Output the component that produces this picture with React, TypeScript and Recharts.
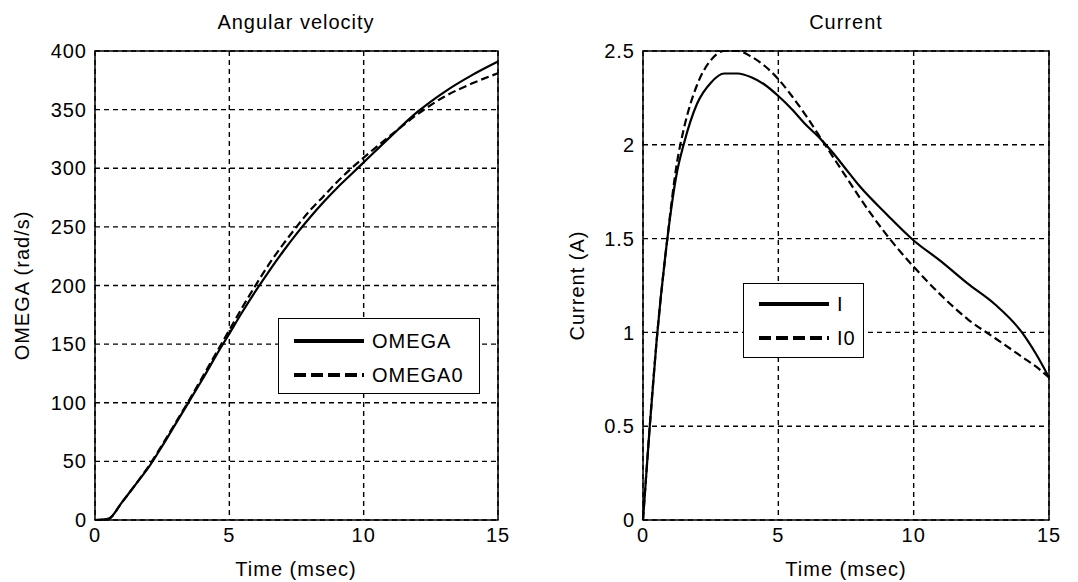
import { LineChart, Line, XAxis, YAxis, CartesianGrid, ReferenceArea, Legend } from "recharts";

const TIME_W = [0, 0.5, 1, 1.5, 2, 2.5, 3, 3.5, 4, 4.5, 5, 5.5, 6, 6.5, 7, 7.5, 8, 8.5, 9, 9.5, 10, 11, 12, 13, 14, 15];
const OMEGA = [0, 1, 15, 30, 45, 63, 82, 101, 120, 140, 159, 178, 196, 213, 229, 244, 258, 271, 283, 294, 305, 327, 348, 365, 379, 391];
const OMEGA0 = [0, 1, 15, 30, 46, 64, 83, 102, 122, 142, 162, 182, 201, 219, 235, 250, 264, 276, 288, 299, 309, 328, 346, 361, 372, 381];

const TIME_I = [0, 0.25, 0.5, 0.9, 1.25, 1.5, 2, 2.5, 3, 3.5, 4, 4.5, 5, 5.5, 6, 6.5, 7, 7.5, 8, 9, 10, 11, 12, 13, 14, 14.5, 15];
const CUR_I = [0, 0.5, 0.95, 1.5, 1.85, 2.0, 2.22, 2.33, 2.38, 2.38, 2.36, 2.32, 2.26, 2.19, 2.11, 2.04, 1.96, 1.87, 1.78, 1.63, 1.49, 1.38, 1.26, 1.15, 1.0, 0.89, 0.76];
const CUR_I0 = [0, 0.5, 0.95, 1.5, 1.9, 2.08, 2.32, 2.45, 2.5, 2.5, 2.47, 2.42, 2.35, 2.26, 2.16, 2.05, 1.94, 1.83, 1.72, 1.52, 1.35, 1.2, 1.07, 0.97, 0.87, 0.82, 0.76];

const X_TICKS = [0, 5, 10, 15];
const OMEGA_TICKS = [0, 50, 100, 150, 200, 250, 300, 350, 400];
const CUR_TICKS = [0, 0.5, 1, 1.5, 2, 2.5];

const omegaData = TIME_W.map((t, i) => ({ t, OMEGA: OMEGA[i], OMEGA0: OMEGA0[i] }));
const curData = TIME_I.map((t, i) => ({ t, I: CUR_I[i], I0: CUR_I0[i] }));

const FONT = '"Liberation Sans", Arial, sans-serif';
const FS = 20;
const LS = 1;

function yLabel(text: string, dxFromAxis: number) {
  return (props: any) => {
    const vb = props.viewBox || {};
    const x = vb.x + vb.width - dxFromAxis;
    const y = 285.5;
    return (
      <text x={x} y={y} transform={`rotate(-90 ${x} ${y})`} textAnchor="middle" dominantBaseline="central"
        fontFamily={FONT} fontSize={FS} letterSpacing={LS} fill="#000">{text}</text>
    );
  };
}

function LegendBox({ names, width, height, rowTop }: { names: string[]; width: number; height: number; rowTop: number }) {
  return (
    <div style={{ width, height, border: "1px solid #000", background: "#fff", boxSizing: "border-box", fontFamily: FONT, fontSize: FS, letterSpacing: LS, paddingTop: rowTop }}>
      {names.map((n, i) => (
        <div key={n} style={{ display: "flex", alignItems: "center", height: 34 }}>
          <svg width={86} height={10} style={{ flexShrink: 0 }}>
            <line x1={15} x2={85} y1={5} y2={5} stroke="#000" strokeWidth={4} strokeDasharray={i === 1 ? "12 5" : undefined} />
          </svg>
          <span style={{ marginLeft: 7, lineHeight: 1 }}>{n}</span>
        </div>
      ))}
    </div>
  );
}

function Title({ text, cx }: { text: string; cx: number }) {
  return (
    <div style={{ position: "absolute", left: cx - 150, top: 10, width: 300, textAlign: "center", fontFamily: FONT, fontSize: FS, letterSpacing: LS, lineHeight: "24px" }}>
      {text}
    </div>
  );
}

function XLabel({ cx }: { cx: number }) {
  return (
    <div style={{ position: "absolute", left: cx - 100, top: 557, width: 200, textAlign: "center", fontFamily: FONT, fontSize: FS, letterSpacing: LS, lineHeight: "24px" }}>
      Time (msec)
    </div>
  );
}

const tick = { fill: "#000", fontSize: FS, fontFamily: FONT, letterSpacing: LS };

export default function App() {
  return (
    <div style={{ position: "absolute", left: 0, top: 0, width: 1078, height: 582, background: "#fff" }}>
      <div style={{ position: "absolute", left: 0, top: 0 }}>
        <LineChart width={540} height={582} data={omegaData} margin={{ top: 51, right: 42, bottom: 32, left: 55 }}>
          <CartesianGrid stroke="#000" strokeDasharray="5 4" strokeWidth={1.4} horizontalValues={OMEGA_TICKS} verticalValues={X_TICKS} />
          <XAxis dataKey="t" type="number" domain={[0, 15]} ticks={X_TICKS} tick={tick} tickLine={false} axisLine={false} height={30} />
          <YAxis type="number" domain={[0, 400]} ticks={OMEGA_TICKS} tick={tick} tickLine={false} axisLine={false} width={40}
            label={{ content: yLabel("OMEGA  (rad/s)", 73) }} />
          <ReferenceArea x1={0} x2={15} y1={0} y2={400} fill="none" stroke="#000" strokeWidth={1.5} />
          <Line dataKey="OMEGA" type="monotone" stroke="#000" strokeWidth={2.2} dot={false} isAnimationActive={false} />
          <Line dataKey="OMEGA0" type="monotone" stroke="#000" strokeWidth={2.2} strokeDasharray="8 4" dot={false} isAnimationActive={false} />
          <Legend layout="horizontal" verticalAlign="middle" align="center"
            wrapperStyle={{ left: 278, top: 318, width: 202, height: 76 }}
            content={() => <LegendBox names={["OMEGA", "OMEGA0"]} width={202} height={76} rowTop={5} />} />
        </LineChart>
        <Title text="Angular velocity" cx={296} />
        <XLabel cx={296} />
      </div>
      <div style={{ position: "absolute", left: 540, top: 0 }}>
        <LineChart width={538} height={582} data={curData} margin={{ top: 51, right: 29, bottom: 32, left: 63 }}>
          <CartesianGrid stroke="#000" strokeDasharray="5 4" strokeWidth={1.4} horizontalValues={CUR_TICKS} verticalValues={X_TICKS} />
          <XAxis dataKey="t" type="number" domain={[0, 15]} ticks={X_TICKS} tick={tick} tickLine={false} axisLine={false} height={30} />
          <YAxis type="number" domain={[0, 2.5]} ticks={CUR_TICKS} tick={tick} tickLine={false} axisLine={false} width={40}
            label={{ content: yLabel("Current (A)", 66) }} />
          <ReferenceArea x1={0} x2={15} y1={0} y2={2.5} fill="none" stroke="#000" strokeWidth={1.5} />
          <Line dataKey="I" type="monotone" stroke="#000" strokeWidth={2.2} dot={false} isAnimationActive={false} />
          <Line dataKey="I0" type="monotone" stroke="#000" strokeWidth={2.2} strokeDasharray="8 4" dot={false} isAnimationActive={false} />
          <Legend layout="horizontal" verticalAlign="middle" align="center"
            wrapperStyle={{ left: 203, top: 283, width: 121, height: 75 }}
            content={() => <LegendBox names={["I", "I0"]} width={121} height={75} rowTop={3} />} />
        </LineChart>
        <Title text="Current" cx={306} />
        <XLabel cx={306} />
      </div>
    </div>
  );
}
